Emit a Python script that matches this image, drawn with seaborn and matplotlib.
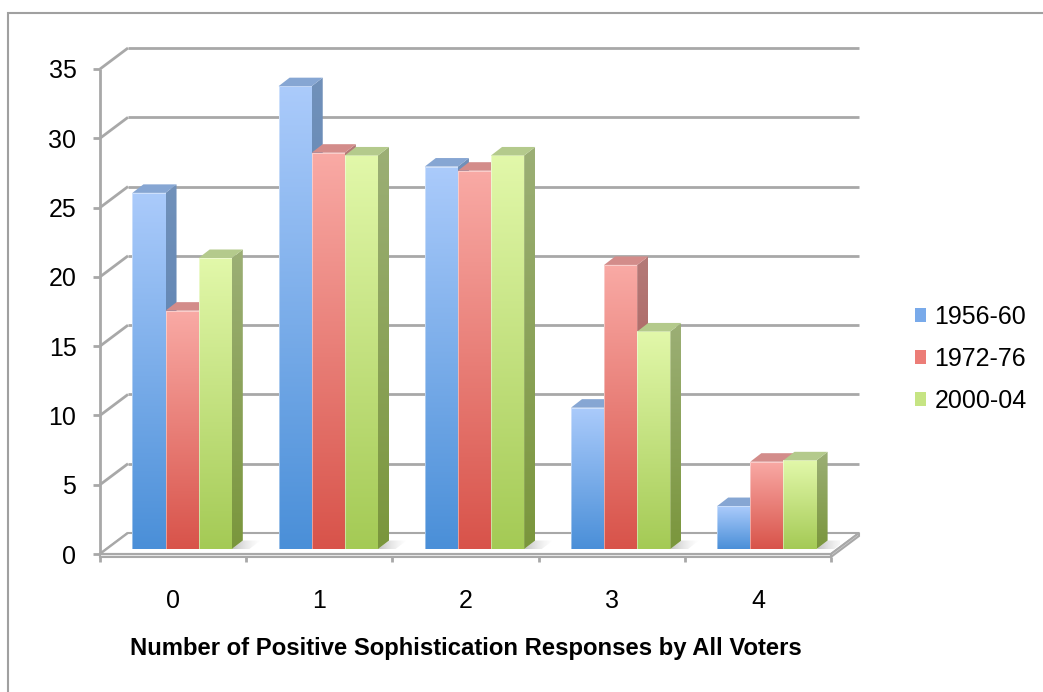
import numpy as np
import pandas as pd
import matplotlib
matplotlib.use("Agg")
import matplotlib.pyplot as plt
import seaborn as sns
from matplotlib.colors import LinearSegmentedColormap
from matplotlib.patches import Polygon, Rectangle, Patch
from matplotlib.transforms import ScaledTranslation

# ---- data -------------------------------------------------------------
categories = ["0", "1", "2", "3", "4"]
periods = ["1956-60", "1972-76", "2000-04"]
share_1956_60 = [25.7, 33.4, 27.6, 10.2, 3.1]
share_1972_76 = [17.2, 28.6, 27.3, 20.5, 6.3]
share_2000_04 = [21.0, 28.4, 28.4, 15.7, 6.4]
y_ticks = [0, 5, 10, 15, 20, 25, 30, 35]
x_title = "Number of Positive Sophistication Responses by All Voters"

# ---- styling ------------------------------------------------------------
front_colors = {  # (bottom, top) of the front face gradient
    "1956-60": ("#4a8fd8", "#abcbfb"),
    "1972-76": ("#d8534a", "#f9aaa5"),
    "2000-04": ("#a4ca55", "#e2f8aa"),
}
side_colors = {
    "1956-60": ("#4f79ad", "#7191ba"),
    "1972-76": ("#a54d48", "#b47a78"),
    "2000-04": ("#7a963c", "#9caf76"),
}
top_colors = {"1956-60": "#86a6d3", "1972-76": "#d38c8a", "2000-04": "#b4ca8c"}
legend_colors = {"1956-60": "#79aaea", "1972-76": "#ec7d77", "2000-04": "#c6e483"}
grid_color = "#a8a8a8"

W, H, DPI = 1043, 692, 100

sns.set_style("white")
plt.rcParams["font.family"] = ["Liberation Sans", "DejaVu Sans"]
plt.rcParams["text.color"] = "black"
plt.rcParams["xtick.color"] = "black"
plt.rcParams["ytick.color"] = "black"

df = pd.DataFrame({
    "response": categories * 3,
    "share": share_1956_60 + share_1972_76 + share_2000_04,
    "period": [p for p in periods for _ in categories],
})

fig = plt.figure(figsize=(W / DPI, H / DPI), dpi=DPI)
# axes = the plane of the bars' front faces
ax = fig.add_axes([109 / W, 143 / H, 731 / W, 485 / H])
sns.barplot(data=df, x="response", y="share", hue="period",
            order=categories, hue_order=periods, width=0.68,
            saturation=1, legend=False, ax=ax)
ax.set_xlim(-0.5, 4.5)
ax.set_ylim(0, 35)
ax.set_autoscale_on(False)
for s in ax.spines.values():
    s.set_visible(False)

inv = ax.transData.inverted()


def px(dx, dy):
    """Pixel offset expressed in data units."""
    a = inv.transform((0, 0))
    b = inv.transform((dx, dy))
    return b - a


fx, fy = px(-9, -5)      # front (axis) plane
bx, by = px(19, 16)      # back wall plane
ddx, ddy = px(11, 8.5)   # bar depth
tx, _ = px(-7, 0)        # y tick length
_, ty = px(0, -8)        # x tick length
_, slab = px(0, -3)      # floor thickness

line_kw = dict(color=grid_color, lw=2.0, clip_on=False, solid_capstyle="butt")

# back wall grid lines + left wall diagonals + y ticks
for v in y_ticks:
    ax.plot([-0.5 + bx, 4.5 + bx], [v + by, v + by], zorder=0.5, **line_kw)
    ax.plot([-0.5 + fx, -0.5 + bx], [v + fy, v + by], zorder=0.5, **line_kw)
    ax.plot([-0.5 + fx + tx, -0.5 + fx], [v + fy, v + fy], zorder=0.5, **line_kw)
ax.plot([-0.5 + fx, -0.5 + fx], [fy + ty, 35 + fy], zorder=0.6, **line_kw)

# floor slab
floor_top = Polygon([(-0.5 + fx, fy), (4.5 + fx, fy), (4.5 + bx, by), (-0.5 + bx, by)],
                    closed=True, facecolor="white", edgecolor=grid_color, lw=1.5,
                    zorder=1, clip_on=False)
floor_front = Polygon([(-0.5 + fx, fy), (4.5 + fx, fy), (4.5 + fx, fy + slab), (-0.5 + fx, fy + slab)],
                      closed=True, facecolor="#ececec", edgecolor=grid_color, lw=1.5,
                      zorder=1, clip_on=False)
floor_side = Polygon([(4.5 + fx, fy), (4.5 + bx, by), (4.5 + bx, by + slab), (4.5 + fx, fy + slab)],
                     closed=True, facecolor="#ececec", edgecolor=grid_color, lw=1.5,
                     zorder=1, clip_on=False)
for p in (floor_top, floor_front, floor_side):
    ax.add_patch(p)
for b in [0.5, 1.5, 2.5, 3.5, 4.5]:
    ax.plot([b + fx, b + fx], [fy + slab, fy + ty], zorder=1, **line_kw)

grad = np.linspace(0, 1, 256).reshape(-1, 1)
shadow_cmap = LinearSegmentedColormap.from_list(
    "floor_shadow", [(0.55, 0.55, 0.55, 0.55), (0.8, 0.8, 0.8, 0.0)])

# shaded 3-D bars built on the seaborn bar patches
for j, (period, cont) in enumerate(zip(periods, ax.containers)):
    cmap_f = LinearSegmentedColormap.from_list(period + "_f", front_colors[period])
    cmap_s = LinearSegmentedColormap.from_list(period + "_s", side_colors[period])
    for rect in cont:
        x, w, h = rect.get_x(), rect.get_width(), rect.get_height()
        z = 3 + j
        rect.set_facecolor("none")
        rect.set_edgecolor("none")
        img = ax.imshow(grad, cmap=cmap_f, origin="lower", aspect="auto",
                        extent=[x, x + w, 0, h], zorder=z, interpolation="bilinear")
        img.set_clip_path(rect)
        side = Polygon([(x + w, 0), (x + w + ddx, ddy), (x + w + ddx, h + ddy), (x + w, h)],
                       closed=True, facecolor="none", edgecolor="none", zorder=z + 0.5)
        ax.add_patch(side)
        simg = ax.imshow(grad, cmap=cmap_s, origin="lower", aspect="auto",
                         extent=[x + w, x + w + ddx, 0, h + ddy], zorder=z + 0.5,
                         interpolation="bilinear")
        simg.set_clip_path(side)
        top = Polygon([(x, h), (x + w, h), (x + w + ddx, h + ddy), (x + ddx, h + ddy)],
                      closed=True, facecolor=top_colors[period], edgecolor="none",
                      zorder=z + 0.5, clip_on=False)
        ax.add_patch(top)
        edge = Rectangle((x, 0), w, h, facecolor="none", edgecolor="white",
                         lw=0.6, alpha=0.5, zorder=z + 0.1)
        ax.add_patch(edge)

# faint floor shadow to the right of the last bar of each group
last = ax.containers[-1]
for rect in last:
    x, w = rect.get_x(), rect.get_width()
    sh = Polygon([(x + w, 0), (x + w + ddx, ddy), (x + w + ddx * 2.6, ddy),
                  (x + w + ddx * 1.6, 0)], closed=True, facecolor="none",
                 edgecolor="none", zorder=1.5)
    ax.add_patch(sh)
    simg = ax.imshow(grad.T, cmap=shadow_cmap, aspect="auto", origin="lower",
                     extent=[x + w, x + w + ddx * 2.6, 0, ddy], zorder=1.5,
                     interpolation="bilinear")
    simg.set_clip_path(sh)

# ticks and labels sit on the front plane
ax.set_xticks(range(len(categories)), categories)
ax.set_yticks(y_ticks, [str(v) for v in y_ticks])
ax.tick_params(axis="both", length=0, labelsize=18, colors="black")
ax.tick_params(axis="x", pad=25)
ax.tick_params(axis="y", pad=17)
shift = ScaledTranslation(-9 / DPI, -5 / DPI, fig.dpi_scale_trans)
for lab in ax.get_xticklabels() + ax.get_yticklabels():
    lab.set_transform(lab.get_transform() + shift)
ax.set_xlabel("")
ax.set_ylabel("")

fig.text(466 / W, 1 - 648 / H, x_title, ha="center", va="center",
         fontsize=17.2, fontweight="bold", color="black")

handles = [Patch(facecolor=legend_colors[p], edgecolor="none") for p in periods]
fig.legend(handles, periods, loc="center left", bbox_to_anchor=(915 / W, 1 - 359 / H),
           frameon=False, fontsize=18, handlelength=0.42, handleheight=0.5,
           handletextpad=0.35, labelspacing=0.72, borderpad=0, borderaxespad=0)

# chart-area border
fig.patches.append(Rectangle((8 / W, -0.1), 2, (H - 13) / H + 0.1, transform=fig.transFigure,
                             facecolor="none", edgecolor="#a0a0a0", lw=1.5))

fig.savefig("out.png", dpi=DPI)
